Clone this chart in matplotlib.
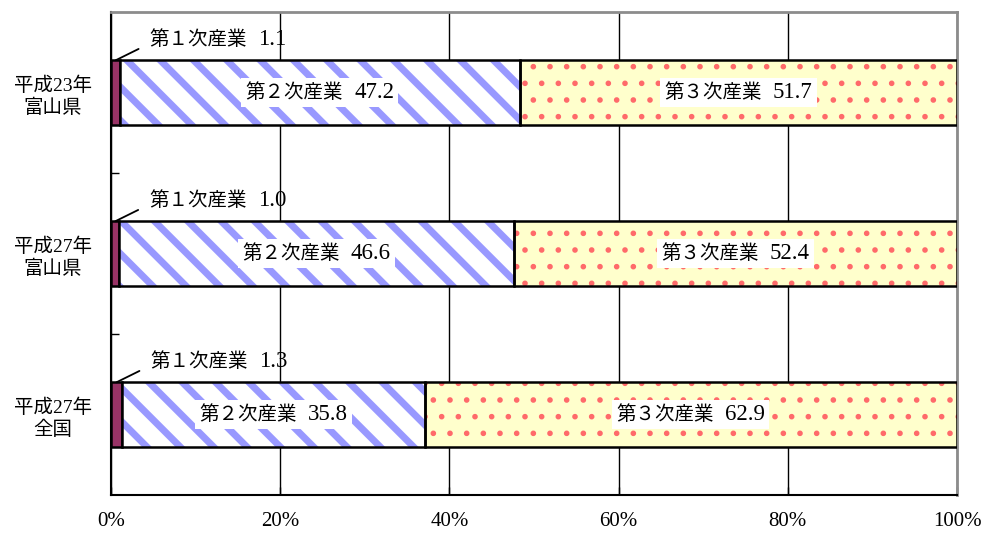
import numpy as np
import matplotlib.pyplot as plt
from matplotlib.offsetbox import TextArea, HPacker, AnnotationBbox

plt.rcParams['font.family'] = ['Liberation Serif', 'Noto Sans CJK JP', 'DejaVu Sans']

groups = ['平成23年\n富山県', '平成27年\n富山県', '平成27年\n全国']
primary = [1.1, 1.0, 1.3]
secondary = [47.2, 46.6, 35.8]
tertiary = [51.7, 52.4, 62.9]
sector_names = ['第１次産業', '第２次産業', '第３次産業']
xticks = [0, 20, 40, 60, 80, 100]

primary = np.array(primary)
secondary = np.array(secondary)
tertiary = np.array(tertiary)
ypos = np.arange(len(groups))
h = 0.4

fig = plt.figure(figsize=(9.83, 5.33), dpi=100)
ax = fig.add_axes([0.1129, 0.0713, 0.8607, 0.9062])

ax.set_xlim(0, 100)
ax.set_ylim(2.5, -0.5)
ax.grid(axis='x', color='black', lw=1)
ax.set_axisbelow(True)

# first sector: solid
ax.barh(ypos, primary, height=h, color='#993366', edgecolor='black', lw=1.8, zorder=3)

# second sector: blue diagonal stripes
with plt.rc_context({'hatch.linewidth': 5.0}):
    ax.barh(ypos, secondary, left=primary, height=h, color='white',
            edgecolor='#9999ff', hatch='\\', lw=0, zorder=3)
ax.barh(ypos, secondary, left=primary, height=h, fill=False,
        edgecolor='black', lw=1.8, zorder=4)

# third sector: red dots on pale yellow
with plt.rc_context({'hatch.linewidth': 1.6}):
    ax.barh(ypos, tertiary, left=primary + secondary, height=h, color='#ffffcc',
            edgecolor='#ff6a6a', hatch='.', lw=0, zorder=3)
ax.barh(ypos, tertiary, left=primary + secondary, height=h, fill=False,
        edgecolor='black', lw=1.8, zorder=4)


def label_box(name, value):
    # CJK name in a smaller size, the number in a larger serif
    return HPacker(children=[TextArea(name, textprops=dict(fontsize=14)),
                             TextArea(f'{value:.1f}', textprops=dict(fontsize=16.5))],
                   align='baseline', pad=0, sep=8)


for i in ypos:
    ab = AnnotationBbox(label_box(sector_names[0], primary[i]),
                        xy=(primary[i] / 2, i - h / 2), xybox=(34, 21),
                        boxcoords='offset pixels', box_alignment=(0, 0.5),
                        frameon=False, zorder=6,
                        arrowprops=dict(arrowstyle='-', color='black', lw=1.3,
                                        shrinkA=4, shrinkB=0, relpos=(0, 0.3)))
    ax.add_artist(ab)
    for x, name, v in [(primary[i] + secondary[i] / 2, sector_names[1], secondary[i]),
                       (primary[i] + secondary[i] + tertiary[i] / 2, sector_names[2], tertiary[i])]:
        ab = AnnotationBbox(label_box(name, v), xy=(x, i), frameon=True, pad=0.6,
                            zorder=6, bboxprops=dict(fc='white', ec='none', boxstyle='square'))
        ax.add_artist(ab)

ax.set_xticks(xticks)
ax.set_xticklabels([f'{t}%' for t in xticks], fontsize=15)
ax.tick_params(axis='x', direction='in', length=6, width=1, pad=12, top=False)

ax.set_yticks(ypos)
ax.set_yticklabels(groups, fontsize=14, ha='center', linespacing=1.3)
ax.tick_params(axis='y', which='major', length=0, pad=42)
ax.set_yticks([0.5, 1.5], minor=True)
ax.tick_params(axis='y', which='minor', direction='in', length=6, width=1)

for side in ['left', 'bottom']:
    ax.spines[side].set_color('black')
    ax.spines[side].set_linewidth(1.5)
for side in ['top', 'right']:
    ax.spines[side].set_color('#8c8c8c')
    ax.spines[side].set_linewidth(2)

fig.savefig('out.png', dpi=100)
